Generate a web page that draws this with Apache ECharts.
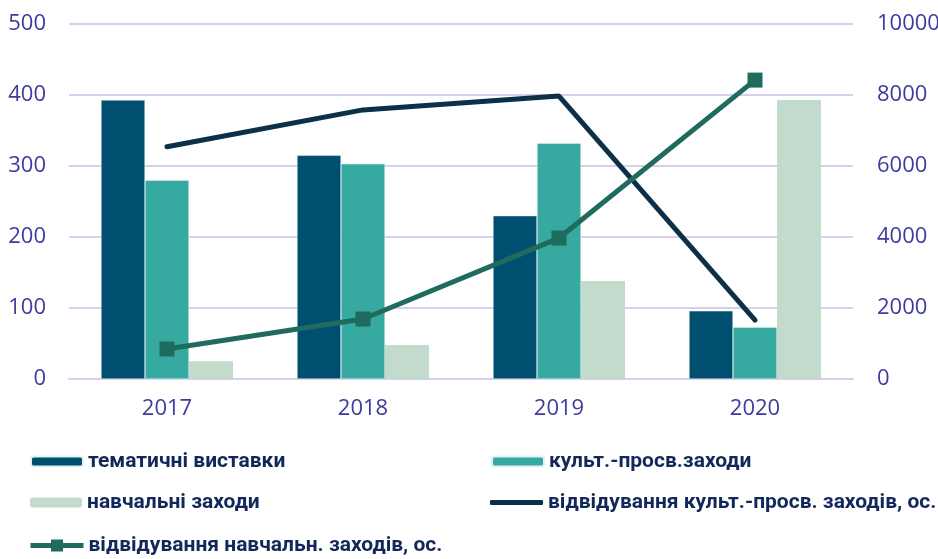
<!DOCTYPE html>
<html>
<head>
<meta charset="utf-8">
<script src="https://cdn.jsdelivr.net/npm/echarts@6/dist/echarts.min.js"></script>
<style>
  html, body { margin: 0; padding: 0; background: #fff; }
  #chart { width: 938px; height: 559px; }
</style>
</head>
<body>
<div id="chart"></div>
<script>
// категорії (роки)
const years = ['2017', '2018', '2019', '2020']

// стовпчики, ліва вісь
const exhibitions = [393, 315, 230, 96]
const culturalEvents = [280, 303, 332, 73]
const educationalEvents = [25, 48, 138, 393]

// лінії, права вісь (осіб)
const culturalVisits = [6540, 7580, 7970, 1660]
const educationalVisits = [845, 1690, 3970, 8420]

const labelColor = '#3f3a9e'
const axisFont = { color: labelColor, fontSize: 22, fontFamily: '"Open Sans", sans-serif' }
const legendFont = {
  color: '#13285a',
  fontFamily: 'Roboto, sans-serif',
  fontWeight: 'bold',
  fontSize: 21
}
const legendBase = { padding: 0, itemGap: 0, textStyle: legendFont }

const chart = echarts.init(document.getElementById('chart'))

chart.setOption({
  animation: false,
  grid: { left: 69, right: 85, top: 24, bottom: 180, outerBoundsMode: 'none' },
  legend: [
    { ...legendBase, data: ['тематичні виставки'], left: 30, top: 451, itemWidth: 52, itemHeight: 10 },
    { ...legendBase, data: ['культ.-просв.заходи'], left: 491, top: 451, itemWidth: 52, itemHeight: 10 },
    { ...legendBase, data: ['навчальні заходи'], left: 30, top: 492, itemWidth: 52, itemHeight: 10 },
    {
      ...legendBase,
      data: [{ name: 'відвідування культ.-просв. заходів, ос.', icon: 'roundRect' }],
      left: 490, top: 492, itemWidth: 53, itemHeight: 5,
      itemStyle: { borderRadius: 3 }
    },
    {
      ...legendBase,
      data: ['відвідування навчальн. заходів, ос.'],
      left: 28, top: 535, itemWidth: 53, itemHeight: 15,
      lineStyle: { width: 5 }
    }
  ],
  xAxis: {
    type: 'category',
    data: years,
    axisLine: { lineStyle: { color: '#d6d0ee', width: 2 } },
    axisTick: { show: false },
    axisLabel: { ...axisFont, margin: 19 }
  },
  yAxis: [
    {
      type: 'value',
      min: 0, max: 500, interval: 100,
      axisLine: { show: false },
      axisTick: { show: false },
      splitLine: { lineStyle: { color: '#d6d0ee', width: 2 } },
      axisLabel: { ...axisFont, margin: 23 }
    },
    {
      type: 'value',
      min: 0, max: 10000, interval: 2000,
      axisLine: { show: false },
      axisTick: { show: false },
      splitLine: { show: false },
      axisLabel: { ...axisFont, margin: 24, formatter: v => String(v) }
    }
  ],
  series: [
    {
      name: 'тематичні виставки',
      type: 'bar',
      data: exhibitions,
      barWidth: 44,
      barGap: '0%',
      itemStyle: { color: '#004f71', borderColor: '#e6f0f0', borderWidth: 0.5 }
    },
    {
      name: 'культ.-просв.заходи',
      type: 'bar',
      data: culturalEvents,
      barWidth: 44,
      barGap: '0%',
      itemStyle: { color: '#36aaa0', borderColor: '#e6f0f0', borderWidth: 0.5 }
    },
    {
      name: 'навчальні заходи',
      type: 'bar',
      data: educationalEvents,
      barWidth: 44,
      barGap: '0%',
      itemStyle: { color: '#c2dbcc' }
    },
    {
      name: 'відвідування культ.-просв. заходів, ос.',
      type: 'line',
      yAxisIndex: 1,
      data: culturalVisits,
      symbol: 'none',
      lineStyle: { color: '#0b3048', width: 5, cap: 'round' },
      itemStyle: { color: '#0b3048' }
    },
    {
      name: 'відвідування навчальн. заходів, ос.',
      type: 'line',
      yAxisIndex: 1,
      data: educationalVisits,
      symbol: 'rect',
      symbolSize: 15,
      lineStyle: { color: '#1f6b5e', width: 5 },
      itemStyle: { color: '#1f6b5e' }
    }
  ]
})
</script>
</body>
</html>
